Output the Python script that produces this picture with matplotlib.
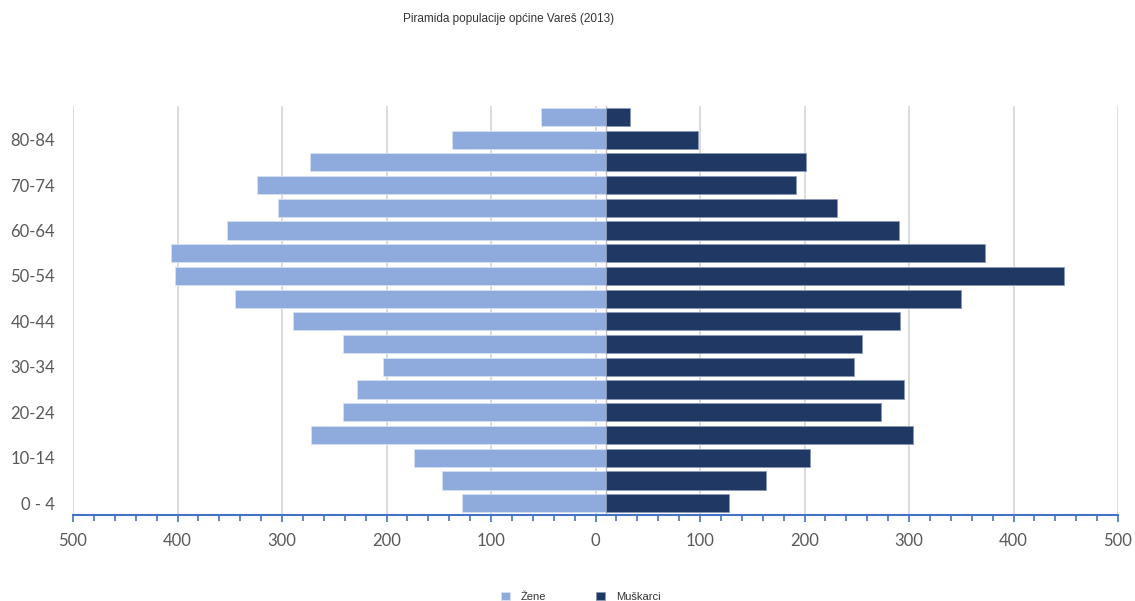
import matplotlib.pyplot as plt
import matplotlib.ticker as mticker
import numpy as np

# age groups, bottom to top
ages = ['0 - 4', '5-9', '10-14', '15-19', '20-24', '25-29', '30-34', '35-39', '40-44',
        '45-49', '50-54', '55-59', '60-64', '65-69', '70-74', '75-79', '80-84', '85+']
zene = [138, 157, 184, 283, 252, 239, 214, 252, 300, 355, 413, 417, 363, 314, 334, 284, 148, 63]
muskarci = [117, 153, 195, 293, 263, 285, 237, 245, 281, 339, 438, 362, 280, 221, 181, 191, 88, 23]
x_ticks = [-500, -400, -300, -200, -100, 0, 100, 200, 300, 400, 500]

# the bars in the original meet a little right of the 0 gridline
base = 10.4

c_zene = '#8FAADC'
c_musk = '#203864'

plt.rcParams['font.family'] = ['Lato', 'DejaVu Sans']

fig = plt.figure(figsize=(11.35, 6.01), dpi=100)
ax = fig.add_axes([73 / 1135, 1 - 514.5 / 601, (1118 - 73) / 1135, (514.5 - 105.6) / 601])

y = np.arange(len(ages))
ax.barh(y, -np.array(zene), left=base, height=0.8, color=c_zene,
        edgecolor='#D6E0F2', linewidth=0.6, label='Žene', zorder=3)
ax.barh(y, muskarci, left=base, height=0.8, color=c_musk,
        edgecolor='#8A98B8', linewidth=0.6, label='Muškarci', zorder=3)
ax.axvline(base, color='#BFBFBF', linewidth=1, zorder=2)

ax.set_xlim(-500, 500)
ax.set_ylim(-0.5, len(ages) - 0.5)
ax.set_xticks(x_ticks)
ax.set_xticklabels([str(abs(v)) for v in x_ticks])
ax.xaxis.set_minor_locator(mticker.MultipleLocator(20))
ax.grid(axis='x', color='#D9D9D9', linewidth=1.3, zorder=0)
ax.set_axisbelow(True)

ax.set_yticks(y[::2])
ax.set_yticklabels(ages[::2])

for s in ['top', 'right', 'left']:
    ax.spines[s].set_visible(False)
ax.spines['bottom'].set_color('#4472C4')
ax.spines['bottom'].set_linewidth(1.5)

ax.tick_params(axis='x', which='both', direction='out', color='#4472C4', width=1.2,
               labelsize=12, labelcolor='#595959', pad=8)
ax.tick_params(axis='x', which='major', length=5)
ax.tick_params(axis='x', which='minor', length=4)
ax.tick_params(axis='y', length=0, labelsize=12, labelcolor='#595959', pad=13)

fig.text(509 / 1135, 1 - 19 / 601, 'Piramida populacije općine Vareš (2013)',
         ha='center', va='center', fontsize=8.5, color='#333333',
         family=['Liberation Sans', 'DejaVu Sans'])

leg = fig.legend(loc='center', bbox_to_anchor=(581 / 1135, 4 / 601), ncol=2, frameon=False,
                 handlelength=0.8, handleheight=0.8, handletextpad=1.0, columnspacing=4.5,
                 prop={'family': ['Liberation Sans', 'DejaVu Sans'], 'size': 8})
for t in leg.get_texts():
    t.set_color('#333333')

fig.savefig('out.png', dpi=100)
